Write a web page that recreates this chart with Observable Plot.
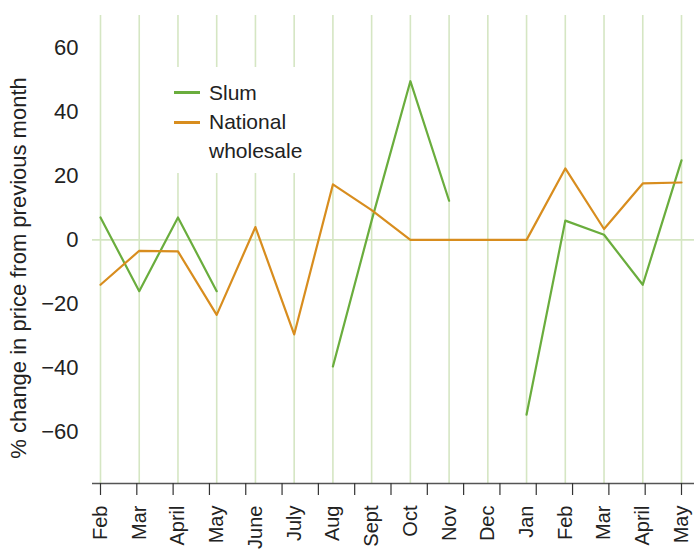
<!DOCTYPE html>
<html>
<head>
<meta charset="utf-8">
<script src="https://cdn.jsdelivr.net/npm/d3@7"></script>
<script src="https://cdn.jsdelivr.net/npm/@observablehq/plot@0.6"></script>
<style>
  html, body { margin: 0; padding: 0; background: #fff; }
  #wrap { position: relative; width: 694px; height: 549px; font-family: "Liberation Sans", Arial, sans-serif; color: #222; }
  #ytitle { position: absolute; left: 19px; top: 268px; transform: translate(-50%, -50%) rotate(-90deg); white-space: nowrap; font-size: 22px; color: #222; }
  #legend { position: absolute; left: 165px; top: 67px; width: 145px; height: 106px; background: #fff; }
  #legend .sw { position: absolute; left: 9px; width: 26px; height: 2.5px; }
  #legend .txt { position: absolute; left: 44px; top: 11px; font-size: 21px; line-height: 29px; color: #222; }
</style>
</head>
<body>
<div id="wrap">
  <div id="chart"></div>
  <div id="ytitle"></div>
  <div id="legend"></div>
</div>
<script>
// ---- data ----
const months = ["Feb","Mar","April","May","June","July","Aug","Sept","Oct","Nov","Dec","Jan","Feb","Mar","April","May"];
const slum = [7, -16, 7, -16, null, null, -39.5, 6, 49.5, 12.2, null, -54.5, 6, 1.6, -14, 24.8];
const national = [-14, -3.4, -3.6, -23.4, 4, -29.5, 17.3, 9.3, 0, 0, 0, 0, 22.3, 3.4, 17.6, 17.9];
const seriesNames = ["Slum", "National wholesale"];
const seriesColors = ["#6aad3d", "#d88d1e"];
const yTicks = [-60, -40, -20, 0, 20, 40, 60];
const yDomain = [-76, 70];
const yTitle = "% change in price from previous month";

const rows = [];
months.forEach((m, i) => {
  rows.push({i, series: seriesNames[0], value: slum[i]});
});
months.forEach((m, i) => {
  rows.push({i, series: seriesNames[1], value: national[i]});
});

const idx = d3.range(months.length);
const gridColor = "#d5e6c3";
const tickMarkPositions = d3.range(17).map(k => k * (months.length - 1) / 16);

const chart = Plot.plot({
  width: 694,
  height: 549,
  marginLeft: 92,
  marginRight: 0,
  marginTop: 15,
  marginBottom: 66,
  insetLeft: 8,
  insetRight: 13,
  style: {fontFamily: "Liberation Sans, Arial, sans-serif", fontSize: "21px", color: "#222", background: "#fff"},
  x: {type: "linear", domain: [0, months.length - 1]},
  y: {domain: yDomain},
  color: {domain: seriesNames, range: seriesColors},
  marks: [
    Plot.ruleX(idx, {x: d => d, stroke: gridColor, strokeWidth: 1.6}),
    Plot.ruleY([0], {stroke: gridColor, strokeWidth: 1.6}),
    Plot.ruleY([yDomain[0]], {stroke: "#555", strokeWidth: 1.5}),
    Plot.axisY({ticks: yTicks, tickSize: 0, tickPadding: 14, label: null, fontSize: 22}),
    Plot.axisX({ticks: tickMarkPositions, tickSize: 12, tickFormat: () => "", stroke: "#333", strokeWidth: 1.2, label: null}),
    Plot.axisX({ticks: idx, tickSize: 0, tickPadding: 22, tickRotate: -90, tickFormat: i => months[i], label: null, fontSize: 20}),
    Plot.line(rows, {x: "i", y: "value", z: "series", stroke: "series", strokeWidth: 2.2, curve: "linear"})
  ]
});
document.getElementById("chart").appendChild(chart);

document.getElementById("ytitle").textContent = yTitle;

const legend = document.getElementById("legend");
const swY = [25, 55];
seriesNames.forEach((name, k) => {
  const sw = document.createElement("div");
  sw.className = "sw";
  sw.style.top = (swY[k] - 1) + "px";
  sw.style.background = seriesColors[k];
  legend.appendChild(sw);
});
const txt = document.createElement("div");
txt.className = "txt";
txt.innerHTML = "Slum<br>National<br>wholesale";
legend.appendChild(txt);
</script>
</body>
</html>
